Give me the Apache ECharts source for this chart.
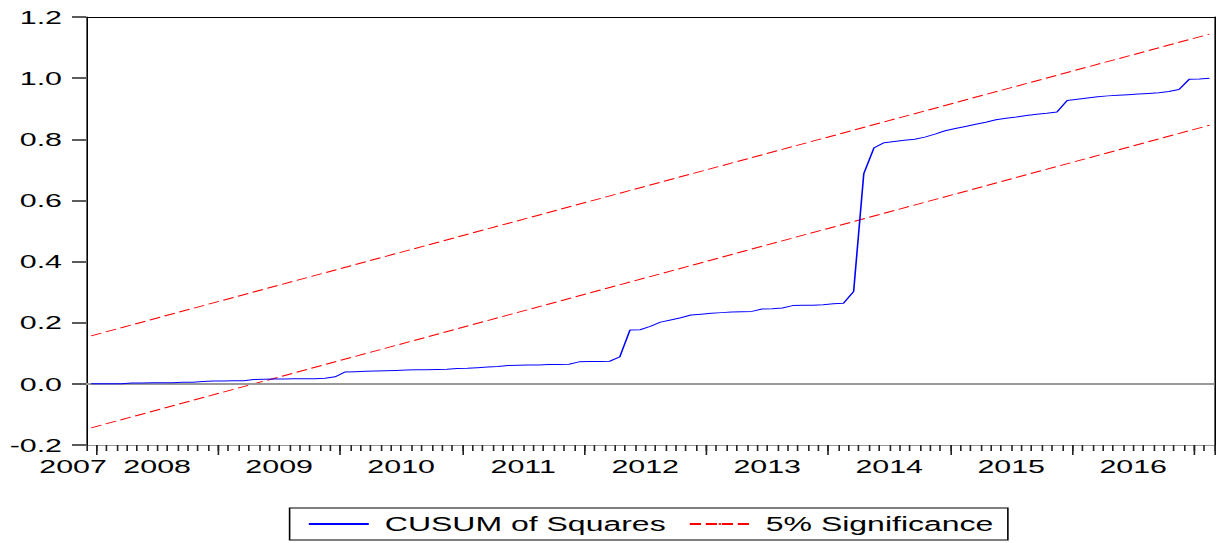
<!DOCTYPE html>
<html>
<head>
<meta charset="utf-8">
<script src="https://cdn.jsdelivr.net/npm/echarts@6/dist/echarts.min.js"></script>
<style>
  html, body { margin: 0; padding: 0; background: #fff; overflow: hidden; }
  /* the source graphic is stretched horizontally, so the chart is drawn narrow and widened */
  #chart { width: 761px; height: 543px; transform: scaleX(1.6); transform-origin: 0 0; }
</style>
</head>
<body>
<div id="chart"></div>
<script>
// monthly sample, 2007M12 .. 2017M02
const startYear = 2007;
const startMonth = 12;

// CUSUM of squares
const cusum = [
  0.000, 0.000, 0.000, 0.000, 0.003, 0.003, 0.004, 0.004, 0.004, 0.005,
  0.005, 0.008, 0.009, 0.009, 0.010, 0.010, 0.014, 0.015, 0.016, 0.016,
  0.017, 0.017, 0.017, 0.018, 0.023, 0.039, 0.040, 0.041, 0.042, 0.043,
  0.044, 0.045, 0.046, 0.046, 0.047, 0.048, 0.050, 0.051, 0.053, 0.055,
  0.057, 0.060, 0.061, 0.062, 0.062, 0.063, 0.063, 0.064, 0.072, 0.073,
  0.073, 0.074, 0.088, 0.176, 0.177, 0.188, 0.202, 0.209, 0.216, 0.225,
  0.228, 0.231, 0.233, 0.235, 0.236, 0.237, 0.245, 0.246, 0.248, 0.256,
  0.257, 0.257, 0.259, 0.262, 0.264, 0.302, 0.688, 0.772, 0.789, 0.793,
  0.797, 0.800, 0.807, 0.817, 0.828, 0.835, 0.842, 0.849, 0.856, 0.864,
  0.869, 0.873, 0.878, 0.882, 0.885, 0.889, 0.927, 0.931, 0.935, 0.939,
  0.942, 0.944, 0.946, 0.948, 0.950, 0.952, 0.956, 0.963, 0.996, 0.997,
  1.000
];

// 5% significance bounds at first and last month (straight lines)
const upperBand = [0.157, 1.144];
const lowerBand = [-0.144, 0.846];

const yTicks = { min: -0.2, max: 1.2, step: 0.2 };

const months = [];
for (let i = 0; i < cusum.length; i++) {
  const k = startMonth - 1 + i;
  months.push((startYear + Math.floor(k / 12)) + '-' + String(k % 12 + 1).padStart(2, '0'));
}
const first = months[0];
const last = months[months.length - 1];
const monthOf = i => (months[i] || '').slice(5);

// one decimal; tolerate whatever the axis hands over
const yLabel = v => {
  const n = Number(v !== null && typeof v === 'object' ? v.value : v);
  return isFinite(n) ? n.toFixed(1) : '';
};

const FONT = "'Liberation Sans', Arial, sans-serif";
const noAxisParts = () => ({
  axisTick: { show: false }, axisLabel: { show: false }, splitLine: { show: false }
});

const chart = echarts.init(document.getElementById('chart'), null, { renderer: 'svg' });

chart.setOption({
  animation: false,
  grid: [
    { left: 53.75, right: 1.9, top: 17, bottom: 98 },
    // thin strip left of the plot: its split lines act as the y ticks
    { left: 45, width: 8.75, top: 17, bottom: 98 }
  ],
  legend: {
    data: ['CUSUM of Squares', '5% Significance'],
    top: 508, left: 181,
    itemWidth: 37.5, itemHeight: 2, itemGap: 14,
    padding: [6, 9, 6, 11],
    borderColor: '#000', borderWidth: 1,
    textStyle: { fontFamily: FONT, fontSize: 20, color: '#000', padding: [0, 0, 0, 5] }
  },
  xAxis: [
    {
      type: 'category', data: months, boundaryGap: true, position: 'bottom',
      axisLine: { show: true, onZero: false, lineStyle: { color: '#999', width: 1 } },
      axisTick: { show: true, interval: 0, length: 6, lineStyle: { color: '#222', width: 1 } },
      axisLabel: {
        show: true,
        interval: i => i === 0 || monthOf(i) === '07',
        margin: 12,
        color: '#000', fontFamily: FONT, fontSize: 19,
        formatter: (v, i) => (i === 0 ? '{first|' : '{mid|') + String(v).slice(0, 4) + '}',
        rich: {
          first: { fontFamily: FONT, fontSize: 19, color: '#000', padding: [0, 22.5, 0, 0] },
          mid: { fontFamily: FONT, fontSize: 19, color: '#000', padding: [0, 6.4, 0, 0] }
        }
      },
      splitLine: { show: false }
    },
    {
      // year ticks
      type: 'category', data: months, boundaryGap: true, position: 'bottom',
      axisLine: { show: false, onZero: false },
      axisTick: { show: true, interval: i => monthOf(i) === '01', length: 10, lineStyle: { color: '#222', width: 1 } },
      axisLabel: { show: false },
      splitLine: { show: false }
    },
    {
      // top frame
      type: 'category', data: months, position: 'top',
      axisLine: { show: true, onZero: false, lineStyle: { color: '#000', width: 1 } },
      ...noAxisParts()
    },
    {
      gridIndex: 1, type: 'value', min: 0, max: 1, show: false
    }
  ],
  yAxis: [
    {
      // y ticks strip
      gridIndex: 1, type: 'value', min: yTicks.min, max: yTicks.max, interval: yTicks.step,
      axisLine: { show: false }, axisTick: { show: false }, axisLabel: { show: false },
      splitLine: { show: true, lineStyle: { color: '#555', width: 1.6, type: 'solid' } }
    },
    {
      type: 'value', min: yTicks.min, max: yTicks.max, interval: yTicks.step, position: 'left',
      axisLine: { show: true, onZero: false, lineStyle: { color: '#000', width: 1 } },
      axisTick: { show: true, length: 8.75, lineStyle: { color: '#555', width: 1.6 } },
      axisLabel: {
        margin: 15, color: '#000', fontFamily: FONT, fontSize: 19,
        formatter: yLabel
      },
      splitLine: { show: false }
    },
    {
      // right frame
      type: 'value', min: yTicks.min, max: yTicks.max, position: 'right',
      axisLine: { show: true, onZero: false, lineStyle: { color: '#000', width: 1 } },
      ...noAxisParts()
    }
  ],
  series: [
    {
      name: '5% Significance', type: 'line', symbol: 'none', z: 2,
      xAxisIndex: 0, yAxisIndex: 1,
      data: [[first, lowerBand[0]], [last, lowerBand[1]]],
      lineStyle: { color: '#ff0000', width: 1, type: [7, 3] },
      itemStyle: { color: '#ff0000' },
      markLine: {
        silent: true, symbol: ['none', 'none'], label: { show: false },
        lineStyle: { color: '#999', width: 2, type: 'solid' },
        data: [{ yAxis: 0 }]
      }
    },
    {
      name: '5% Significance', type: 'line', symbol: 'none', z: 2,
      xAxisIndex: 0, yAxisIndex: 1,
      data: [[first, upperBand[0]], [last, upperBand[1]]],
      lineStyle: { color: '#ff0000', width: 1, type: [7, 3] },
      itemStyle: { color: '#ff0000' }
    },
    {
      name: 'CUSUM of Squares', type: 'line', symbol: 'none', z: 5,
      xAxisIndex: 0, yAxisIndex: 1,
      data: cusum,
      lineStyle: { color: '#0000ff', width: 1 },
      itemStyle: { color: '#0000ff' }
    }
  ]
});
</script>
</body>
</html>
